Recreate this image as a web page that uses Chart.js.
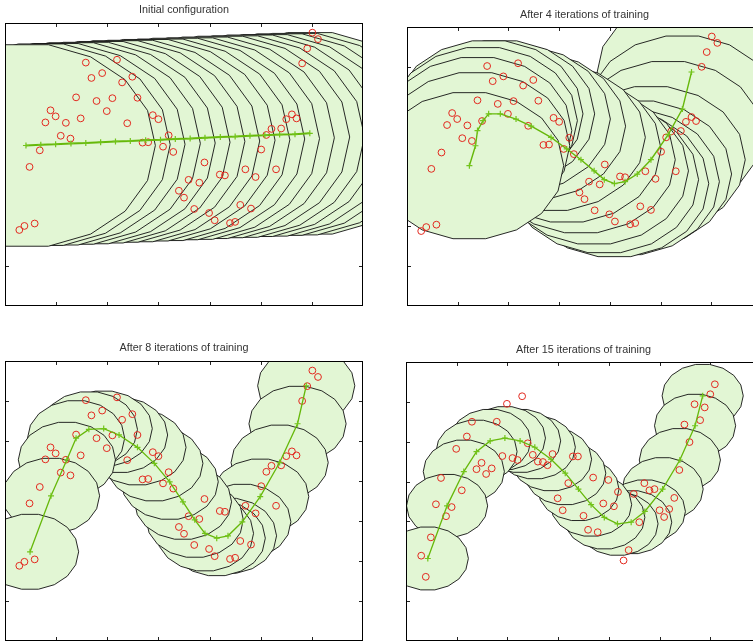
<!DOCTYPE html>
<html>
<head>
<meta charset="utf-8">
<script src="https://cdn.jsdelivr.net/npm/chart.js@4.4.1/dist/chart.umd.min.js"></script>
<style>
    html, body { margin: 0; padding: 0; background: #fff; overflow: hidden; width: 753px; height: 642px; }
    canvas { position: absolute; }
</style>
</head>
<body>
<canvas id="c0" width="370" height="310" style="left:0px;top:0px"></canvas>
<canvas id="c4" width="370" height="310" style="left:400px;top:0px"></canvas>
<canvas id="c8" width="370" height="307" style="left:0px;top:335px"></canvas>
<canvas id="c15" width="370" height="307" style="left:400px;top:335px"></canvas>
<script>
// data points used in the first three panels
var dataX = [1.58,2.19,1.90,1.69,2.49,2.29,1.39,1.79,2.10,2.59,1.99,0.89,0.99,0.79,1.19,1.48,2.39,2.89,3.00,1.09,
             1.28,0.68,0.48,2.69,2.80,3.20,3.09,3.29,3.90,4.20,4.30,4.70,4.90,3.59,3.80,3.40,3.50,3.70,3.99,4.10,
             4.40,4.50,4.60,4.81,0.28,0.38,0.58,5.01,5.30,5.11,5.21,5.40,5.50,5.61,5.70,5.81,5.91,6.01,6.12];
var dataY = [6.02,6.09,5.76,5.64,5.67,5.53,5.16,5.07,5.14,5.15,4.82,4.84,4.69,4.54,4.53,4.64,4.52,4.72,4.62,4.21,
             4.14,3.85,3.44,4.04,4.05,4.22,3.94,3.81,3.55,3.25,3.23,3.38,3.19,3.12,3.05,2.85,2.68,2.40,2.30,2.12,
             2.05,2.08,2.50,2.41,1.88,1.98,2.04,3.87,3.38,4.23,4.38,4.39,4.62,4.74,4.64,6.00,6.37,6.76,6.60];

// data points of the last panel
var data15X = [2.29,1.99,1.30,1.79,1.20,0.99,1.90,2.10,2.20,1.49,1.69,1.39,1.58,2.40,2.50,2.60,2.70,2.79,2.89,3.29,
               3.39,0.69,1.10,0.59,0.90,0.79,0.49,0.30,0.39,3.20,3.69,3.99,2.99,3.09,3.89,4.10,4.18,4.49,3.50,3.59,
               3.78,4.60,4.39,4.29,4.70,4.80,4.90,5.00,5.09,5.19,5.29,5.39,5.59,5.49,5.80,5.89,5.69,6.00,6.09];
var data15Y = [6.14,5.95,5.50,5.50,5.13,4.82,4.64,4.59,4.54,4.47,4.33,4.31,4.19,4.96,4.67,4.50,4.49,4.41,4.69,4.63,
               4.63,4.09,3.78,3.43,3.36,3.13,2.60,2.14,1.61,3.96,4.10,4.04,3.58,3.28,3.45,3.38,3.74,3.69,3.14,2.79,
               2.73,2.98,2.28,2.02,3.96,3.78,3.81,3.28,3.11,3.31,3.59,4.29,4.99,5.43,5.54,5.86,5.94,6.19,6.44];

// node positions
var nodes0X = [0.41,0.70,0.99,1.29,1.58,1.87,2.16,2.45,2.75,3.04,3.33,3.62,3.91,4.21,4.50,4.79,5.08,5.37,5.67,5.96];
var nodes0Y = [3.97,3.99,4.00,4.02,4.03,4.05,4.07,4.08,4.10,4.11,4.13,4.14,4.16,4.18,4.19,4.21,4.22,4.24,4.25,4.27];
var nodes4X = [1.23,1.35,1.39,1.50,1.61,1.84,2.15,2.45,2.84,3.15,3.43,3.69,3.89,4.09,4.30,4.54,4.81,5.15,5.43,5.61];
var nodes4Y = [3.52,4.02,4.40,4.65,4.82,4.82,4.69,4.51,4.23,3.94,3.67,3.39,3.17,3.07,3.12,3.31,3.67,4.30,4.94,5.87];
var nodes8X = [0.49,0.90,1.21,1.39,1.64,1.93,2.23,2.59,2.92,3.22,3.48,3.71,3.91,4.14,4.36,4.64,4.99,5.37,5.72,5.89];
var nodes8Y = [2.23,3.63,4.53,5.07,5.29,5.31,5.15,4.84,4.44,3.98,3.48,3.03,2.69,2.57,2.63,2.98,3.61,4.46,5.43,6.38];
var nodes15X = [0.43,0.81,1.14,1.39,1.66,1.95,2.25,2.54,2.86,3.14,3.40,3.65,3.91,4.17,4.44,4.71,5.06,5.40,5.70,5.85];
var nodes15Y = [2.07,3.39,4.25,4.75,5.02,5.09,5.02,4.86,4.56,4.21,3.81,3.42,3.10,2.94,2.98,3.25,3.81,4.54,5.40,6.15];

// circle radius around each node (data units)
var radii = [2.53, 1.86, 0.95, 0.80];
var titles = ['Initial configuration', 'After 4 iterations of training',
              'After 8 iterations of training', 'After 15 iterations of training'];
var tickVals = [1, 2, 3, 4, 5, 6];

function toPoints(xs, ys) {
    return xs.map((v, i) => ({ x: v, y: ys[i] }));
}

function circlesPlugin(nx, ny, r) {
    return {
        id: 'circles',
        beforeDatasetsDraw(chart) {
            const ctx = chart.ctx;
            const a = chart.chartArea;
            const xs = chart.scales.x, ys = chart.scales.y;
            ctx.save();
            ctx.beginPath();
            ctx.rect(a.left, a.top, a.right - a.left, a.bottom - a.top);
            ctx.clip();

            ctx.strokeStyle = '#222';
            ctx.lineWidth = 1;
            tickVals.forEach(v => {
                const px = Math.round(xs.getPixelForValue(v)) + 0.5;
                const py = Math.round(ys.getPixelForValue(v)) + 0.5;
                ctx.beginPath();
                ctx.moveTo(px, a.bottom); ctx.lineTo(px, a.bottom - 4);
                ctx.moveTo(px, a.top); ctx.lineTo(px, a.top + 4);
                ctx.moveTo(a.left, py); ctx.lineTo(a.left + 4, py);
                ctx.moveTo(a.right, py); ctx.lineTo(a.right - 4, py);
                ctx.stroke();
            });

            // last node first, so the first node ends up on top
            ctx.fillStyle = '#e2f6d4';
            ctx.strokeStyle = '#111';
            ctx.lineWidth = 0.9;
            for (let i = nx.length - 1; i >= 0; i--) {
                const cx = xs.getPixelForValue(nx[i]);
                const cy = ys.getPixelForValue(ny[i]);
                const rx = xs.getPixelForValue(nx[i] + r) - cx;
                const ry = cy - ys.getPixelForValue(ny[i] + r);
                ctx.beginPath();
                for (let k = 0; k < 18; k++) {
                    const t = k * Math.PI * 2 / 18;
                    const px = cx + rx * Math.cos(t), py = cy - ry * Math.sin(t);
                    if (k === 0) ctx.moveTo(px, py); else ctx.lineTo(px, py);
                }
                ctx.closePath();
                ctx.fill();
                ctx.stroke();
            }
            ctx.restore();
        },
        afterDatasetsDraw(chart) {
            const ctx = chart.ctx;
            const a = chart.chartArea;
            ctx.save();
            ctx.strokeStyle = '#000';
            ctx.lineWidth = 1;
            ctx.strokeRect(Math.round(a.left) + 0.5, Math.round(a.top) + 0.5,
                Math.round(a.right - a.left) - 1, Math.round(a.bottom - a.top) - 1);
            ctx.restore();
        }
    };
}

function makePanel(id, title, nx, ny, px, py, r, pad, titlePadBottom, lineW) {
    new Chart(document.getElementById(id), {
        type: 'scatter',
        data: {
            datasets: [
                {
                    data: toPoints(nx, ny),
                    showLine: true,
                    borderColor: '#66b80a',
                    borderWidth: lineW,
                    pointStyle: 'cross',
                    pointRadius: 3,
                    pointBorderColor: '#72c41a',
                    pointBorderWidth: 1.2,
                    tension: 0
                },
                {
                    data: toPoints(px, py),
                    showLine: false,
                    pointStyle: 'circle',
                    pointRadius: 3.4,
                    pointBorderColor: '#e2291f',
                    pointBackgroundColor: 'rgba(0,0,0,0)',
                    pointBorderWidth: 1
                }
            ]
        },
        options: {
            responsive: false,
            animation: false,
            devicePixelRatio: 1,
            layout: { padding: pad, autoPadding: false },
            scales: {
                x: { type: 'linear', min: 0, max: 7, display: false },
                y: { type: 'linear', min: 0, max: 7, display: false }
            },
            plugins: {
                legend: { display: false },
                tooltip: { enabled: false },
                title: {
                    display: true,
                    text: title,
                    color: '#333',
                    font: { family: "'Liberation Sans', Arial, sans-serif", size: 10.8, weight: 'normal', lineHeight: 1.2 },
                    padding: { top: 0, bottom: titlePadBottom }
                }
            }
        },
        plugins: [circlesPlugin(nx, ny, r)]
    });
}

makePanel('c0', titles[0], nodes0X, nodes0Y, dataX, dataY, radii[0],
    { left: 5, right: 7, top: 3.5, bottom: 4 }, 6.5, 2);
makePanel('c4', titles[1], nodes4X, nodes4Y, dataX, dataY, radii[1],
    { left: 7, right: 8, top: 8.5, bottom: 4 }, 5.5, 1.4);
makePanel('c8', titles[2], nodes8X, nodes8Y, dataX, dataY, radii[2],
    { left: 5, right: 7, top: 6.5, bottom: 1 }, 6.5, 1.3);
makePanel('c15', titles[3], nodes15X, nodes15Y, data15X, data15Y, radii[3],
    { left: 6, right: 9, top: 8.5, bottom: 1 }, 5.5, 1.3);
</script>
</body>
</html>
